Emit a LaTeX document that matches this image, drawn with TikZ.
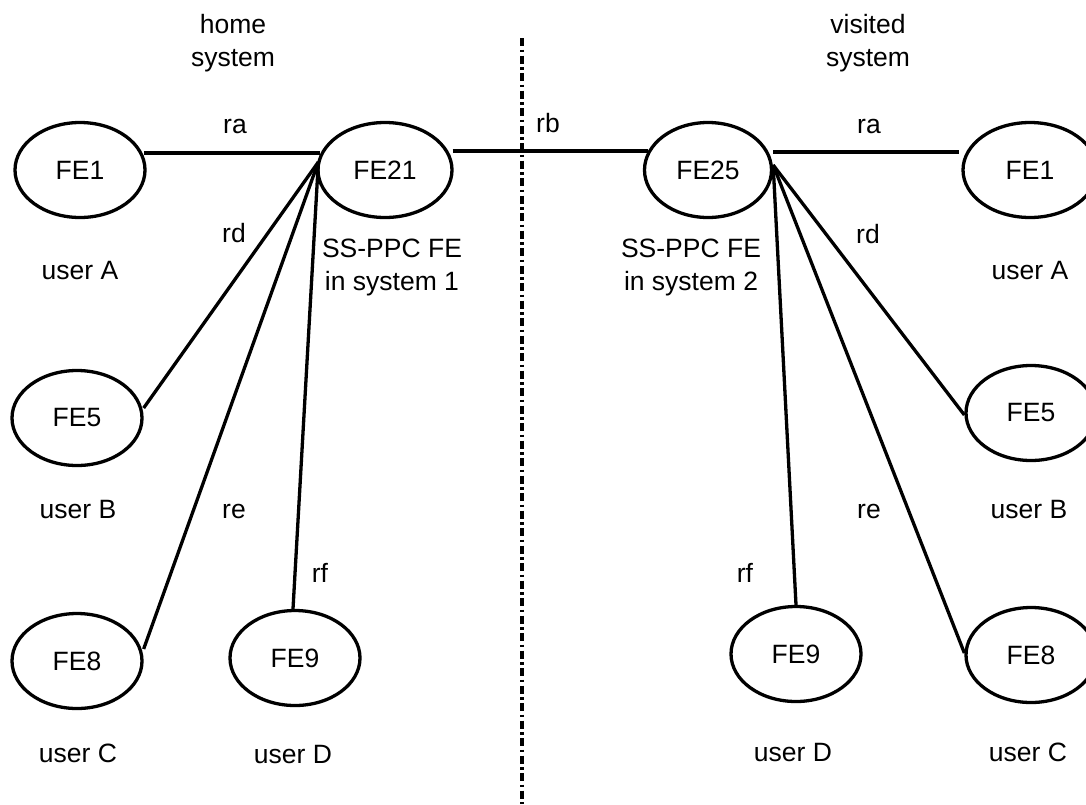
\documentclass[tikz,border=0pt]{standalone}
\usepackage{fontspec}
\setmainfont{Liberation Sans}
\usetikzlibrary{shapes.geometric}
\begin{document}
\begin{tikzpicture}[x=1pt,y=-1pt,
  every node/.style={font=\fontsize{26.5}{33}\selectfont},
  fe/.style={draw,ellipse,line width=3.3pt,minimum width=130pt,minimum height=95pt,inner sep=0pt},
  lbl/.style={anchor=base,inner sep=0pt,align=center},
  conn/.style={line width=3.3pt},
  divider/.style={line width=3.3pt,dash pattern=on 8pt off 3.5pt on 2.5pt off 3.5pt}]
\useasboundingbox (0,0) rectangle (1086,804);
% ellipses
\node[fe] (lFE1)  at (80,170)  {FE1};
\node[fe,minimum width=134pt] (FE21)  at (385,170) {FE21};
\node[fe] (lFE5)  at (77,418)  {FE5};
\node[fe] (lFE8)  at (77,661)  {FE8};
\node[fe] (lFE9)  at (295,658) {FE9};
\node[fe,minimum width=127pt] (FE25)  at (708,170) {FE25};
\node[fe,minimum width=134pt] (rFE1)  at (1030,170) {FE1};
\node[fe] (rFE5)  at (1031,413) {FE5};
\node[fe] (rFE9)  at (796,654) {FE9};
\node[fe] (rFE8)  at (1031,655) {FE8};
% texts (base = baseline of the last line)
\node[lbl] (home) at (233,66) {home\\system};
\node[lbl] (visited) at (868,66) {visited\\system};
\node[lbl] (raL) at (235,133) {ra};
\node[lbl] (raR) at (869,133) {ra};
\node[lbl] (rb) at (548,132) {rb};
\node[lbl] (rdL) at (234,242) {rd};
\node[lbl] (rdR) at (868,243) {rd};
\node[lbl] (ss1) at (392,290) {SS-PPC FE\\in system 1};
\node[lbl] (ss2) at (691,290) {SS-PPC FE\\in system 2};
\node[lbl] (uAL) at (80,279) {user A};
\node[lbl] (uAR) at (1030,279) {user A};
\node[lbl] (uBL) at (78,518) {user B};
\node[lbl] (uBR) at (1029,518) {user B};
\node[lbl] (reL) at (234,518) {re};
\node[lbl] (reR) at (869,518) {re};
\node[lbl] (rfL) at (320,582) {rf};
\node[lbl] (rfR) at (745,582) {rf};
\node[lbl] (uCL) at (78,762) {user C};
\node[lbl] (uDL) at (293,763) {user D};
\node[lbl] (uDR) at (793,761) {user D};
\node[lbl] (uCR) at (1028,761) {user C};
% hubs
\coordinate (hubL) at ([xshift=4pt,yshift=17pt]FE21.west);
\coordinate (hubL2) at ([xshift=2pt,yshift=8pt]FE21.west);
\coordinate (hubR) at ([yshift=5pt]FE25.east);
% connectors
\draw[conn] (hubL) -- ([xshift=-3pt,yshift=17pt]lFE1.east);
\draw[conn] ([xshift=-1pt,yshift=19pt]FE21.east) -- ([xshift=5pt,yshift=19pt]FE25.west);
\draw[conn] ([yshift=18pt]FE25.east) -- ([xshift=-2pt,yshift=18pt]rFE1.west);
\draw[conn] (hubL2) -- ([yshift=10pt]lFE5.east);
\draw[conn] (hubL2) -- ([yshift=12pt]lFE8.east);
\draw[conn] (hubL2) -- ([xshift=-2pt]lFE9.north);
\draw[conn] (hubR) -- (rFE9.north);
\draw[conn] (hubR) -- ([yshift=-2pt]rFE5.west);
\draw[conn] (hubR) -- ([yshift=2pt]rFE8.west);
% divider
\coordinate (divTop) at (522,38);
\coordinate (divBot) at (522,804);
\draw[divider] (divTop) -- (divBot);
\end{tikzpicture}
\end{document}
